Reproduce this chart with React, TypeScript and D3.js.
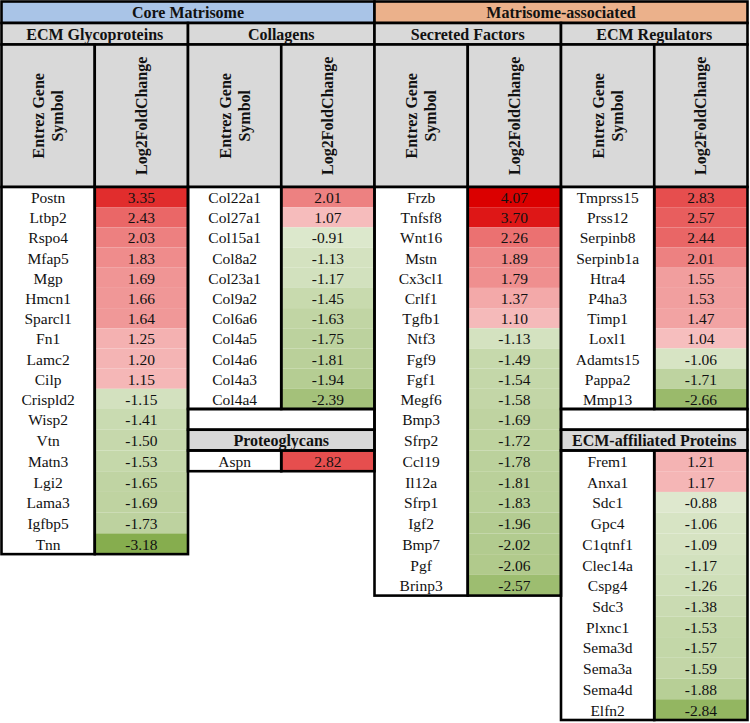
import React from "react";
import * as d3 from "d3";

// ---------- data ----------
const groupTitles = ["Core Matrisome", "Matrisome-associated"];
const columnHeaderName = ["Entrez Gene", "Symbol"];
const columnHeaderValue = "Log2FoldChange";

const glycoGenes = ["Postn", "Ltbp2", "Rspo4", "Mfap5", "Mgp", "Hmcn1", "Sparcl1", "Fn1", "Lamc2", "Cilp", "Crispld2", "Wisp2", "Vtn", "Matn3", "Lgi2", "Lama3", "Igfbp5", "Tnn"];
const glycoValues = [3.35, 2.43, 2.03, 1.83, 1.69, 1.66, 1.64, 1.25, 1.2, 1.15, -1.15, -1.41, -1.5, -1.53, -1.65, -1.69, -1.73, -3.18];

const collagenGenes = ["Col22a1", "Col27a1", "Col15a1", "Col8a2", "Col23a1", "Col9a2", "Col6a6", "Col4a5", "Col4a6", "Col4a3", "Col4a4"];
const collagenValues = [2.01, 1.07, -0.91, -1.13, -1.17, -1.45, -1.63, -1.75, -1.81, -1.94, -2.39];

const proteoGenes = ["Aspn"];
const proteoValues = [2.82];

const secretedGenes = ["Frzb", "Tnfsf8", "Wnt16", "Mstn", "Cx3cl1", "Crlf1", "Tgfb1", "Ntf3", "Fgf9", "Fgf1", "Megf6", "Bmp3", "Sfrp2", "Ccl19", "Il12a", "Sfrp1", "Igf2", "Bmp7", "Pgf", "Brinp3"];
const secretedValues = [4.07, 3.7, 2.26, 1.89, 1.79, 1.37, 1.1, -1.13, -1.49, -1.54, -1.58, -1.69, -1.72, -1.78, -1.81, -1.83, -1.96, -2.02, -2.06, -2.57];

const regulatorGenes = ["Tmprss15", "Prss12", "Serpinb8", "Serpinb1a", "Htra4", "P4ha3", "Timp1", "Loxl1", "Adamts15", "Pappa2", "Mmp13"];
const regulatorValues = [2.83, 2.57, 2.44, 2.01, 1.55, 1.53, 1.47, 1.04, -1.06, -1.71, -2.66];

const affiliatedGenes = ["Frem1", "Anxa1", "Sdc1", "Gpc4", "C1qtnf1", "Clec14a", "Cspg4", "Sdc3", "Plxnc1", "Sema3d", "Sema3a", "Sema4d", "Elfn2"];
const affiliatedValues = [1.21, 1.17, -0.88, -1.06, -1.09, -1.17, -1.26, -1.38, -1.53, -1.57, -1.59, -1.88, -2.84];

// ---------- layout ----------
const W = 750;
const H = 723;
const FONT = "'Liberation Serif', 'Times New Roman', serif";
const SW = 2.6;

const xCol = d3.scaleLinear().domain([0, 8]).range([1.5, 747.5]);
const yRow = d3.scaleLinear().domain([0, 11, 26]).range([187, 409, 720]);
const yTitle = [1.5, 23, 44.5, 187];

const allValues = [...glycoValues, ...collagenValues, ...proteoValues, ...secretedValues, ...regulatorValues, ...affiliatedValues];
const color = d3
  .scaleLinear<string>()
  .domain([d3.min(allValues)!, 0, d3.max(allValues)!])
  .range(["#86ad4e", "#ffffff", "#db0000"])
  .interpolate(d3.interpolateRgb);

type Section = { title: string; col: number; headerRow: number | null; startRow: number; genes: string[]; values: number[] };

const sections: Section[] = [
  { title: "ECM Glycoproteins", col: 0, headerRow: null, startRow: 0, genes: glycoGenes, values: glycoValues },
  { title: "Collagens", col: 2, headerRow: null, startRow: 0, genes: collagenGenes, values: collagenValues },
  { title: "Proteoglycans", col: 2, headerRow: 12, startRow: 13, genes: proteoGenes, values: proteoValues },
  { title: "Secreted Factors", col: 4, headerRow: null, startRow: 0, genes: secretedGenes, values: secretedValues },
  { title: "ECM Regulators", col: 6, headerRow: null, startRow: 0, genes: regulatorGenes, values: regulatorValues },
  { title: "ECM-affiliated Proteins", col: 6, headerRow: 12, startRow: 13, genes: affiliatedGenes, values: affiliatedValues },
];

const gapCols = [2, 6];
const gapRow = 11;

export default function App() {
  const cells: React.ReactNode[] = [];
  const outlines: React.ReactNode[] = [];
  const texts: React.ReactNode[] = [];

  // group title row
  groupTitles.forEach((t, i) => {
    const x0 = xCol(i * 4);
    const x1 = xCol(i * 4 + 4);
    cells.push(
      <rect key={`gt${i}`} x={x0} y={yTitle[0]} width={x1 - x0} height={yTitle[1] - yTitle[0]} fill={i === 0 ? "#a9c4e7" : "#ebb18b"} stroke="#000" strokeWidth={SW} />
    );
    texts.push(
      <text key={`gtt${i}`} x={(x0 + x1) / 2} y={(yTitle[0] + yTitle[1]) / 2 + 6} textAnchor="middle" fontWeight="bold" fontSize={16}>
        {t}
      </text>
    );
  });

  // sub-headers and column headers for top sections
  sections
    .filter((s) => s.headerRow === null)
    .forEach((s, i) => {
      const x0 = xCol(s.col);
      const x1 = xCol(s.col + 2);
      cells.push(<rect key={`sh${i}`} x={x0} y={yTitle[1]} width={x1 - x0} height={yTitle[2] - yTitle[1]} fill="#d9d9d9" stroke="#000" strokeWidth={SW} />);
      texts.push(
        <text key={`sht${i}`} x={(x0 + x1) / 2} y={(yTitle[1] + yTitle[2]) / 2 + 6} textAnchor="middle" fontWeight="bold" fontSize={16}>
          {s.title}
        </text>
      );
      [0, 1].forEach((k) => {
        const cx0 = xCol(s.col + k);
        const cx1 = xCol(s.col + k + 1);
        const cx = (cx0 + cx1) / 2;
        const cy = (yTitle[2] + yTitle[3]) / 2;
        cells.push(<rect key={`ch${i}-${k}`} x={cx0} y={yTitle[2]} width={cx1 - cx0} height={yTitle[3] - yTitle[2]} fill="#d9d9d9" stroke="#000" strokeWidth={SW} />);
        if (k === 0) {
          columnHeaderName.forEach((line, li) => {
            texts.push(
              <text key={`cht${i}-${li}`} transform={`translate(${cx + (li === 0 ? -4 : 15)},${cy}) rotate(-90)`} textAnchor="middle" fontWeight="bold" fontSize={16}>
                {line}
              </text>
            );
          });
        } else {
          texts.push(
            <text key={`chv${i}`} transform={`translate(${cx + 5.5},${cy}) rotate(-90)`} textAnchor="middle" fontWeight="bold" fontSize={16}>
              {columnHeaderValue}
            </text>
          );
        }
      });
    });

  // gap rows
  gapCols.forEach((c, i) => {
    const x0 = xCol(c);
    const x1 = xCol(c + 2);
    outlines.push(<rect key={`gap${i}`} x={x0} y={yRow(gapRow)} width={x1 - x0} height={yRow(gapRow + 1) - yRow(gapRow)} fill="#fff" stroke="#000" strokeWidth={SW} />);
  });

  // sections with inline header row
  sections
    .filter((s) => s.headerRow !== null)
    .forEach((s, i) => {
      const x0 = xCol(s.col);
      const x1 = xCol(s.col + 2);
      const r = s.headerRow as number;
      outlines.push(<rect key={`ih${i}`} x={x0} y={yRow(r)} width={x1 - x0} height={yRow(r + 1) - yRow(r)} fill="#d9d9d9" stroke="#000" strokeWidth={SW} />);
      texts.push(
        <text key={`iht${i}`} x={(x0 + x1) / 2} y={(yRow(r) + yRow(r + 1)) / 2 + 6} textAnchor="middle" fontWeight="bold" fontSize={16}>
          {s.title}
        </text>
      );
    });

  // data cells
  sections.forEach((s, si) => {
    const nx0 = xCol(s.col);
    const nx1 = xCol(s.col + 1);
    const vx1 = xCol(s.col + 2);
    const yTop = yRow(s.startRow);
    const yBot = yRow(s.startRow + s.genes.length);
    cells.push(<rect key={`nb${si}`} x={nx0} y={yTop} width={nx1 - nx0} height={yBot - yTop} fill="#fff" />);
    s.values.forEach((v, j) => {
      const ry0 = yRow(s.startRow + j);
      const ry1 = yRow(s.startRow + j + 1);
      cells.push(<rect key={`v${si}-${j}`} x={nx1} y={ry0} width={vx1 - nx1} height={ry1 - ry0} fill={color(v)} />);
      const ty = (ry0 + ry1) / 2 + 6;
      texts.push(
        <text key={`gn${si}-${j}`} x={(nx0 + nx1) / 2} y={ty} textAnchor="middle" fontSize={15.5}>
          {s.genes[j]}
        </text>
      );
      texts.push(
        <text key={`gv${si}-${j}`} x={(nx1 + vx1) / 2} y={ty} textAnchor="middle" fontSize={15.5}>
          {v.toFixed(2)}
        </text>
      );
    });
    outlines.push(<rect key={`no${si}`} x={nx0} y={yTop} width={nx1 - nx0} height={yBot - yTop} fill="none" stroke="#000" strokeWidth={SW} />);
    outlines.push(<rect key={`vo${si}`} x={nx1} y={yTop} width={vx1 - nx1} height={yBot - yTop} fill="none" stroke="#000" strokeWidth={SW} />);
  });

  return (
    <svg width={W} height={H} style={{ position: "absolute", left: 0, top: 0, background: "#fff" }} fontFamily={FONT}>
      <rect x={0} y={0} width={W} height={H} fill="#fff" />
      <g>{cells}</g>
      <g>{outlines}</g>
      <g fill="#111">{texts}</g>
    </svg>
  );
}
